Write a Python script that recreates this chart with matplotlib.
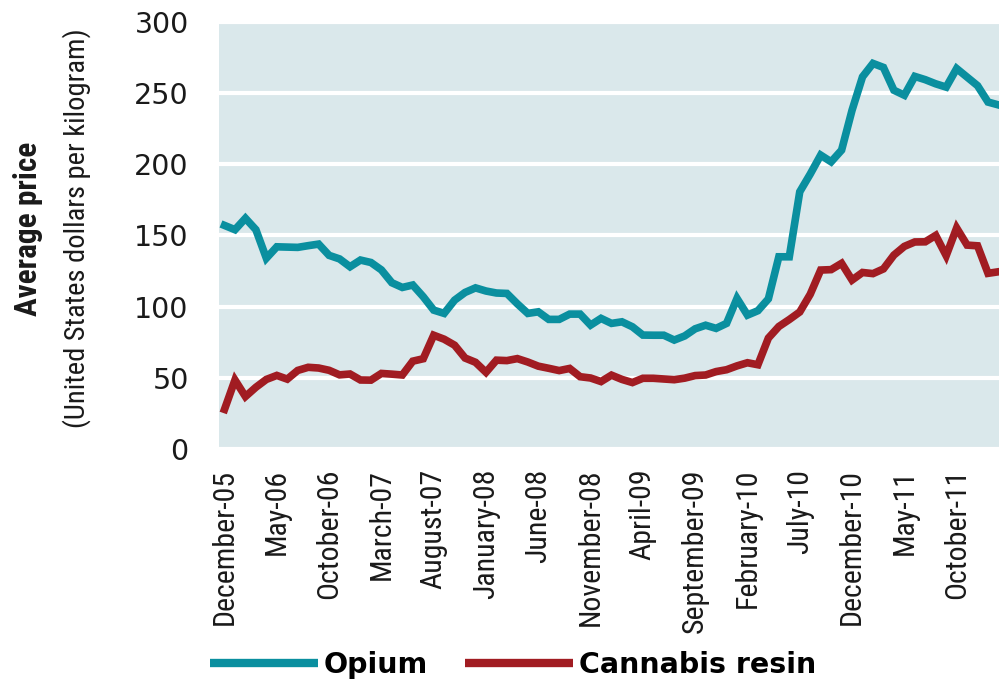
import numpy as np
import pandas as pd
import matplotlib
matplotlib.use("Agg")
import matplotlib.pyplot as plt

# monthly average prices, December 2005 - February 2012
months = pd.date_range("2005-12-01", periods=75, freq="MS")

opium = [157, 154, 162, 154, 134, 142, 141.8, 141.6, 142.8, 143.9,
         136, 133.5, 128, 132.7, 131, 125.8, 116.8, 113.5, 115.2, 107,
         97.6, 95.3, 104.6, 110, 113.2, 111, 109.6, 109.3, 102, 95.3,
         96.4, 91.1, 91.1, 94.8, 94.8, 87.1, 91.8, 88.3, 89.4, 85.9,
         80.1, 80, 80, 76.6, 79.5, 84.5, 87, 84.8, 88.3, 105.8,
         94.1, 97.2, 105.5, 135, 135, 180.6, 193, 206.3, 201.6, 209.8,
         237.8, 261.2, 270.6, 267.8, 251.8, 248.3, 261.5, 259.2, 256.3, 254,
         267, 261, 255, 243.5, 241.5]

cannabis = [28, 48.6, 37, 43.5, 49, 51.8, 49.2, 55.3, 57.5, 57,
            55.4, 52.2, 52.8, 48.6, 48.5, 53.2, 52.7, 52.1, 61.8, 63.5,
            80, 77.2, 73, 64, 61, 54, 62.5, 62.2, 63.6, 61.2,
            58.3, 56.8, 55.2, 56.7, 50.9, 50, 47.5, 52, 49, 46.8,
            49.8, 49.8, 49.3, 48.8, 49.9, 51.7, 52.1, 54.5, 55.8, 58.5,
            60.7, 59.3, 78, 86.1, 91, 96.3, 108.7, 125.7, 126, 130.4,
            118.7, 124, 123.2, 126.5, 136.2, 142.3, 145.4, 145.5, 150, 135.8,
            155.2, 143.2, 142.7, 123.4, 124.5]

yticks = [0, 50, 100, 150, 200, 250, 300]

narrow = ["Roboto Condensed", "Roboto", "DejaVu Sans"]
wide = ["DejaVu Sans"]

fig = plt.figure(figsize=(9.99, 6.87), dpi=100)
ax = fig.add_axes([0.2195, 0.346, 0.7805, 0.6227])

x = np.arange(len(months))
ax.plot(x, opium, color="#0a8f9f", lw=5.5, solid_joinstyle="miter", label="Opium", zorder=3)
ax.plot(x, cannabis, color="#a11c22", lw=5.5, solid_joinstyle="miter", label="Cannabis resin", zorder=3)

ax.set_facecolor("#dae8eb")
ax.set_xlim(-0.5, 74.05)
ax.set_ylim(0, 300)
ax.set_yticks(yticks)
ax.grid(axis="y", color="white", lw=3)
ax.set_axisbelow(True)
for s in ax.spines.values():
    s.set_visible(False)

tick_idx = x[::5][:15]
ax.set_xticks(tick_idx)
ax.set_xticklabels([months[i].strftime("%B-%y") for i in tick_idx],
                   rotation=90, family=narrow, fontsize=21.5, color="#1a1a1a")
ax.tick_params(axis="x", length=0, pad=14)
ax.tick_params(axis="y", length=0, pad=22, labelsize=20.5, labelcolor="#1a1a1a")
for lab in ax.get_yticklabels():
    lab.set_family(wide)

fig.text(0.028, 0.667, "Average price", rotation=90, ha="center", va="center",
         family=narrow, fontsize=22.5, fontweight="bold", color="#1a1a1a")
fig.text(0.077, 0.668, "(United States dollars per kilogram)", rotation=90,
         ha="center", va="center", family=narrow, fontsize=20.5, color="#1a1a1a")

leg = fig.legend(loc="center left", bbox_to_anchor=(0.196, 0.032), ncol=2,
                 frameon=False, borderpad=0, handlelength=3.8, handletextpad=0.2,
                 columnspacing=1.3, prop={"family": wide, "weight": "bold", "size": 20.5})
for line in leg.get_lines():
    line.set_linewidth(6)
    line.set_solid_capstyle("butt")

fig.savefig("out.png", dpi=100)
